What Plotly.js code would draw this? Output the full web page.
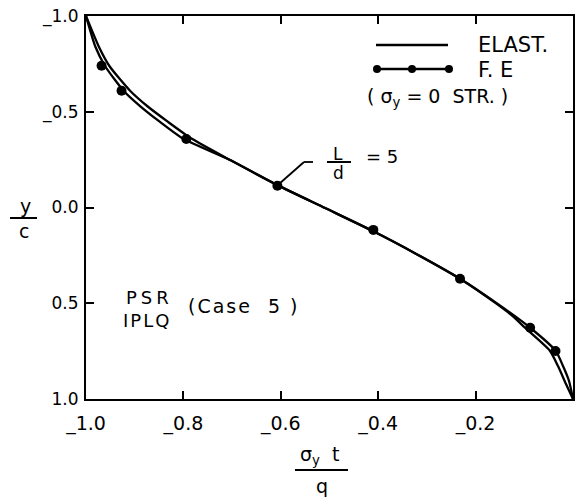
<!DOCTYPE html>
<html>
<head>
<meta charset="utf-8">
<script src="https://cdn.plot.ly/plotly-3.0.1.min.js"></script>
<style>html,body{margin:0;padding:0;background:#fff;}#chart{width:587px;height:497px;}</style>
</head>
<body>
<div id="chart"></div>
<script>
// ---- data ----
// F.E. curve (line) traced points
const feLineX = [-1.0, -0.9805, -0.961, -0.923, -0.889, -0.848, -0.801, -0.702, -0.608, -0.509, -0.411, -0.320, -0.232, -0.156, -0.088, -0.0355, -0.0205, -0.0082, 0.0];
const feLineY = [-1.0, -0.838, -0.739, -0.610, -0.530, -0.447, -0.360, -0.245, -0.118, 0.003, 0.123, 0.245, 0.372, 0.501, 0.628, 0.749, 0.828, 0.906, 1.0];
// F.E. computed points (markers)
const feX = [-0.968, -0.927, -0.794, -0.607, -0.410, -0.232, -0.088, -0.036];
const feY = [-0.740, -0.610, -0.358, -0.114, 0.117, 0.372, 0.628, 0.749];
// Elastic solution
const elX = [-1.0, -0.9733, -0.9520, -0.9095, -0.8745, -0.8315, -0.7835, -0.702, -0.608, -0.509, -0.411, -0.320, -0.232, -0.158, -0.1226, -0.0986, -0.0472, -0.0308, -0.0144, 0.0];
const elY = [-1.0, -0.838, -0.739, -0.610, -0.530, -0.447, -0.360, -0.245, -0.118, 0.003, 0.123, 0.245, 0.372, 0.501, 0.570, 0.628, 0.749, 0.828, 0.922, 1.0];
// ticks
const xTickVals = [-1.0, -0.8, -0.6, -0.4, -0.2, 0.0];
const xTickText = ['_1.0', '_0.8', '_0.6', '_0.4', '_0.2', '0.0'];
const yTickVals = [-1.0, -0.5, 0.0, 0.5, 1.0];
const yTickText = ['_1.0', '_0.5', '0.0', '0.5', '1.0'];

// ---- layout helpers (pixel -> paper) ----
const W = 587, H = 497, L = 86, R = 14, T = 16, B = 98;
const PW = W - L - R, PH = H - T - B;
const px = x => (x - L) / PW;
const py = y => 1 - (y - T) / PH;
const FONT = 'DejaVu Sans, sans-serif';

const traces = [
  {x: elX, y: elY, mode: 'lines', line: {color: '#000', width: 2.3, shape: 'spline', smoothing: 0.6}, hoverinfo: 'skip', showlegend: false, name: 'ELAST.'},
  {x: feLineX, y: feLineY, mode: 'lines', line: {color: '#000', width: 2.3, shape: 'spline', smoothing: 0.6}, hoverinfo: 'skip', showlegend: false, name: 'F. E'},
  {x: feX, y: feY, mode: 'markers', marker: {color: '#000', size: 10}, showlegend: false, name: 'F. E points'}
];

function dot(xp, yp, r) {
  return {type: 'circle', xref: 'paper', yref: 'paper', xsizemode: 'pixel', ysizemode: 'pixel',
    xanchor: px(xp), yanchor: py(yp), x0: -r, x1: r, y0: -r, y1: r,
    fillcolor: '#000', line: {color: '#000', width: 0}};
}
function seg(x0, y0, x1, y1, w) {
  return {type: 'line', xref: 'paper', yref: 'paper', x0: px(x0), y0: py(y0), x1: px(x1), y1: py(y1),
    line: {color: '#000', width: w || 2}};
}
function txt(text, xp, yp, size, xanchor) {
  return {text: text, xref: 'paper', yref: 'paper', x: px(xp), y: py(yp), showarrow: false,
    xanchor: xanchor || 'center', yanchor: 'middle', font: {family: FONT, size: size, color: '#000'}};
}

const shapes = [
  // legend samples
  seg(376, 45, 448, 45, 2.5),
  seg(377, 69, 449, 69, 2.5),
  dot(377, 69, 4), dot(412, 69, 4), dot(449, 69, 4),
  // L/d leader line
  seg(279, 184, 304, 162, 1.8),
  seg(304, 162, 313, 162, 1.8),
  // L/d fraction bar
  seg(327, 162, 351, 162, 2),
  // x title fraction bar
  seg(295, 470, 348, 470, 2),
  // y title fraction bar
  seg(10, 218, 37, 218, 2)
];

const annotations = [
  txt('ELAST.', 476, 45, 21, 'left'),
  txt('F. E', 476, 70, 21, 'left'),
  txt('( σ<sub>y</sub> = 0  STR. )', 437, 97, 19),
  txt('L', 338, 154, 17),
  txt('d', 338, 173, 17),
  txt('= 5', 364, 157, 18, 'left'),
  txt('<span style="letter-spacing:4px">PSR</span>', 149, 297, 18),
  txt('<span style="letter-spacing:2px">IPLQ</span>', 147, 320, 18),
  txt('<span style="letter-spacing:2px">(Case  5 )</span>', 244, 306, 19),
  txt('σ<sub>y</sub>  t', 319, 455, 19),
  txt('q', 322, 486, 19),
  txt('y', 25, 206, 19),
  txt('c', 24, 231, 19)
];

const axisCommon = {
  showline: true, linecolor: '#000', linewidth: 2, mirror: 'ticks',
  ticks: 'inside', ticklen: 8, tickwidth: 2, tickcolor: '#000',
  showgrid: false, zeroline: false, tickmode: 'array'
};

const layout = {
  width: W, height: H,
  margin: {l: L, r: R, t: T, b: B, pad: 0},
  paper_bgcolor: '#fff', plot_bgcolor: '#fff',
  showlegend: false,
  xaxis: Object.assign({}, axisCommon, {range: [-1.0, 0.0], tickvals: xTickVals, ticktext: xTickText, ticklabelstandoff: 6, tickfont: {family: FONT, size: 19, color: '#000'}}),
  yaxis: Object.assign({}, axisCommon, {range: [1.0, -1.0], tickvals: yTickVals, ticktext: yTickText, ticklabelstandoff: 2, tickfont: {family: FONT, size: 17, color: '#000'}}),
  shapes: shapes,
  annotations: annotations
};

Plotly.newPlot('chart', traces, layout, {staticPlot: true, displayModeBar: false});
</script>
</body>
</html>
